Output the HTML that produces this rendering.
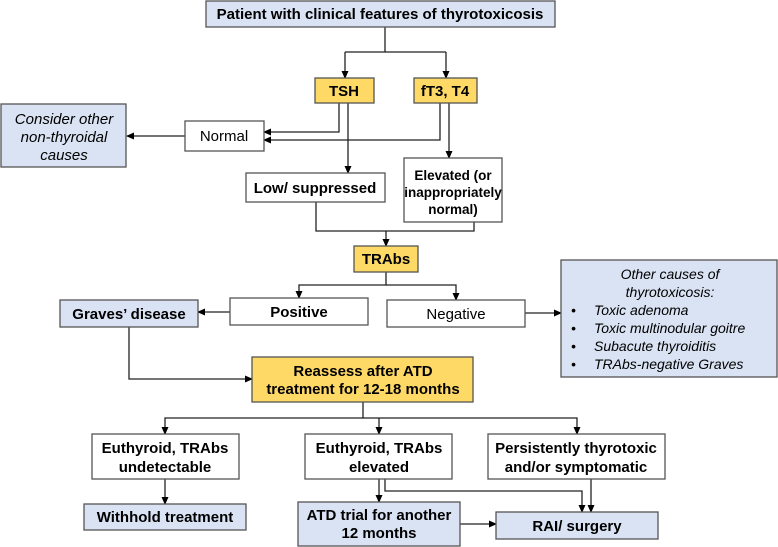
<!DOCTYPE html>
<html><head><meta charset="utf-8"><style>
html,body{margin:0;padding:0;background:#fff}
svg{display:block}
text{font-family:"Liberation Sans",Arial,sans-serif;font-size:15px;fill:#000}
.b{font-weight:bold}
.i{font-style:italic}
.s{font-size:13.5px}
.l{font-size:14px}
</style></head><body>
<svg width="778" height="547" viewBox="0 0 778 547" xmlns="http://www.w3.org/2000/svg">
<defs><marker id="a" markerWidth="8" markerHeight="8" refX="7" refY="4" orient="auto" markerUnits="userSpaceOnUse"><path d="M0,0.5 L8,4 L0,7.5z" fill="#000"/></marker></defs>
<g fill="none" stroke="#222" stroke-width="1.3">
<path d="M385 27V52M345 52H446M345 52V78" marker-end="url(#a)"/>
<path d="M446 52V78" marker-end="url(#a)"/>
<path d="M339 103V132H264" marker-end="url(#a)"/>
<path d="M440 103V140H264" marker-end="url(#a)"/>
<path d="M185 136H127" marker-end="url(#a)"/>
<path d="M348 103V173" marker-end="url(#a)"/>
<path d="M449 103V158" marker-end="url(#a)"/>
<path d="M316 202V231H474V222M386 231V246" marker-end="url(#a)"/>
<path d="M386 272V285H299V298" marker-end="url(#a)"/>
<path d="M386 285H456V300" marker-end="url(#a)"/>
<path d="M230 312H198" marker-end="url(#a)"/>
<path d="M525 313H561" marker-end="url(#a)"/>
<path d="M129 327V379H252" marker-end="url(#a)"/>
<path d="M363 402V418H165V434" marker-end="url(#a)"/>
<path d="M379 418V434" marker-end="url(#a)"/>
<path d="M363 418H577V434" marker-end="url(#a)"/>
<path d="M165 479V504" marker-end="url(#a)"/>
<path d="M379 479V502" marker-end="url(#a)"/>
<path d="M385 479V491H582V512" marker-end="url(#a)"/>
<path d="M591 479V512" marker-end="url(#a)"/>
<path d="M460 524H496" marker-end="url(#a)"/>
</g>
<g stroke="#555" stroke-width="1.3">
<rect x="206" y="1" width="349" height="26" fill="#dae3f3"/>
<rect x="315" y="78" width="59" height="25" fill="#ffd966"/>
<rect x="414" y="78" width="63" height="25" fill="#ffd966"/>
<rect x="1" y="104" width="125" height="63" fill="#dae3f3"/>
<rect x="185" y="121" width="79" height="30" fill="#fff"/>
<rect x="246" y="173" width="139" height="29" fill="#fff"/>
<rect x="404" y="158" width="98" height="64" fill="#fff"/>
<rect x="354" y="246" width="64" height="26" fill="#ffd966"/>
<rect x="230" y="298" width="138" height="27" fill="#fff"/>
<rect x="387" y="300" width="138" height="27" fill="#fff"/>
<rect x="60" y="300" width="138" height="27" fill="#dae3f3"/>
<rect x="561" y="260" width="216" height="117" fill="#dae3f3"/>
<rect x="252" y="357" width="221" height="45" fill="#ffd966"/>
<rect x="92" y="434" width="147" height="45" fill="#fff"/>
<rect x="305" y="434" width="147" height="45" fill="#fff"/>
<rect x="488" y="434" width="177" height="45" fill="#fff"/>
<rect x="84" y="504" width="162" height="26" fill="#dae3f3"/>
<rect x="298" y="502" width="162" height="44" fill="#dae3f3"/>
<rect x="496" y="512" width="162" height="27" fill="#dae3f3"/>
</g>
<g text-anchor="middle">
<text class="b" x="380" y="19">Patient with clinical features of thyrotoxicosis</text>
<text class="b" x="344" y="96">TSH</text>
<text class="b" x="445" y="96">fT3, T4</text>
<text class="i" x="64" y="124">Consider other</text>
<text class="i" x="64" y="142">non-thyroidal</text>
<text class="i" x="64" y="160">causes</text>
<text x="224" y="141">Normal</text>
<text class="b" x="315" y="193">Low/ suppressed</text>
<text class="b s" x="453" y="180">Elevated (or</text>
<text class="b s" x="453" y="197">inappropriately</text>
<text class="b s" x="453" y="214">normal)</text>
<text class="b" x="386" y="264">TRAbs</text>
<text class="b" x="299" y="317">Positive</text>
<text x="456" y="319">Negative</text>
<text class="b" x="129" y="319">Graves’ disease</text>
<text class="i l" x="670" y="279">Other causes of</text>
<text class="i l" x="670" y="297">thyrotoxicosis:</text>
<text class="b" x="363" y="376">Reassess after ATD</text>
<text class="b" x="363" y="394">treatment for 12-18 months</text>
<text class="b" x="165" y="453">Euthyroid, TRAbs</text>
<text class="b" x="165" y="472">undetectable</text>
<text class="b" x="379" y="453">Euthyroid, TRAbs</text>
<text class="b" x="379" y="472">elevated</text>
<text class="b" x="576" y="453">Persistently thyrotoxic</text>
<text class="b" x="576" y="472">and/or symptomatic</text>
<text class="b" x="165" y="522">Withhold treatment</text>
<text class="b" x="379" y="520">ATD trial for another</text>
<text class="b" x="379" y="538">12 months</text>
<text class="b" x="577" y="531">RAI/ surgery</text>
</g>
<g class="i">
<text class="l" x="571" y="315">•</text><text class="i l" x="594" y="315">Toxic adenoma</text>
<text class="l" x="571" y="333">•</text><text class="i l" x="594" y="333">Toxic multinodular goitre</text>
<text class="l" x="571" y="351">•</text><text class="i l" x="594" y="351">Subacute  thyroiditis</text>
<text class="l" x="571" y="369">•</text><text class="i l" x="594" y="369">TRAbs-negative Graves</text>
</g>
</svg>
</body></html>
